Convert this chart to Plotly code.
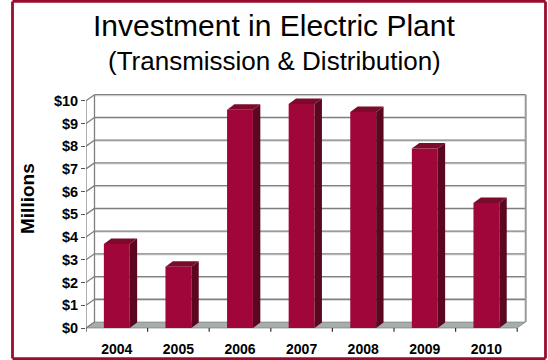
import plotly.graph_objects as go

# Annual investment in electric plant (transmission & distribution), $ millions
years = ["2004", "2005", "2006", "2007", "2008", "2009", "2010"]
investment = [3.7, 2.7, 9.6, 9.85, 9.5, 7.9, 5.5]
y_ticks = list(range(0, 11))
y_tick_labels = [f"${v}" for v in y_ticks]

W, H = 548, 360
FONT = "Liberation Sans, Arial, sans-serif"

# pixel geometry of the plot frame
X0_PX, CAT_PX = 86.0, 61.6        # left axis position, width of one category
Y0_PX, UNIT_PX = 328.0, 22.73     # $0 baseline, pixels per $1
X_RANGE = [0, 7.3]
Y_RANGE = [-0.45, 10.6]

x_dom = [X0_PX / W, (X0_PX + CAT_PX * X_RANGE[1]) / W]
y_dom = [(H - (Y0_PX - UNIT_PX * Y_RANGE[0])) / H,
         (H - (Y0_PX - UNIT_PX * Y_RANGE[1])) / H]

# 3-D depth of the walls / floor and of each column, in data units
DX, DY = 8.5 / CAT_PX, 6.0 / UNIT_PX
BDX, BDY = 7.4 / CAT_PX, 5.5 / UNIT_PX
BAR_W = 0.42
n = len(years)

FRONT = "#a0063a"
TOP = "#7c0a2b"
SIDE = "#5c0720"
GRID = "#7f7f7f"
BORDER = "#9a0c2e"

shapes = []


def seg(x0, y0, x1, y1, color=GRID, width=1.3, layer="below"):
    shapes.append(dict(type="line", xref="x", yref="y", x0=x0, y0=y0, x1=x1, y1=y1,
                       line=dict(color=color, width=width), layer=layer))


def poly(pts, fill, line_color=None, layer="above"):
    path = "M " + " L ".join(f"{px},{py}" for px, py in pts) + " Z"
    shapes.append(dict(type="path", xref="x", yref="y", path=path, fillcolor=fill,
                       line=dict(color=line_color or fill, width=0.6 if line_color else 0),
                       layer=layer))


# floor
poly([(0, 0), (n, 0), (n + DX, DY), (DX, DY)], "#a5aeab", "#6f7673", layer="below")

# back-wall gridlines with a light engraved shadow, and side-wall diagonals
for v in y_ticks:
    if v > 0:
        seg(DX, v + DY - 0.05, n + DX, v + DY - 0.05, color="#d9d9d9", width=1)
        seg(DX, v + DY, n + DX, v + DY)
    seg(0, v, DX, v + DY)

# wall edges and front value axis
seg(DX, DY, DX, y_ticks[-1] + DY)
seg(n + DX, DY, n + DX, y_ticks[-1] + DY, color="#9a9a9a", width=2)
seg(0, 0, 0, y_ticks[-1], color="#7a7a7a", width=1.2)

# category tick marks under the floor edge
for k in range(n + 1):
    seg(k, 0, k, -0.17, color="#333333", width=1.2, layer="above")

# column tops and right-hand sides
for i, v in enumerate(investment):
    xl = i + 0.5 - BAR_W / 2
    xr = i + 0.5 + BAR_W / 2
    poly([(xl, v), (xr, v), (xr + BDX, v + BDY), (xl + BDX, v + BDY)], TOP)
    poly([(xr, 0), (xr + BDX, BDY), (xr + BDX, v + BDY), (xr, v)], SIDE)

# outer frame, as four paper-referenced edges
fl, fr, ft, fb = 12.5 / W, 545.5 / W, 1 - 1.4 / H, 1 - 358.6 / H
for x0, y0, x1, y1 in [(fl, fb, fr, fb), (fl, ft, fr, ft), (fl, fb, fl, ft), (fr, fb, fr, ft)]:
    shapes.append(dict(type="line", xref="paper", yref="paper",
                       x0=x0, y0=y0, x1=x1, y1=y1,
                       line=dict(color=BORDER, width=2.8)))

fig = go.Figure(go.Bar(
    x=[i + 0.5 for i in range(n)],
    y=investment,
    width=BAR_W,
    marker=dict(color=FRONT, line=dict(width=0)),
    hoverinfo="skip",
))

fig.update_layout(
    width=W, height=H,
    margin=dict(l=0, r=0, t=0, b=0),
    paper_bgcolor="white", plot_bgcolor="white",
    showlegend=False,
    shapes=shapes,
    font=dict(family=FONT, color="black"),
    xaxis=dict(domain=x_dom, range=X_RANGE, showgrid=False, zeroline=False,
               showline=False, ticks="",
               tickvals=[i + 0.5 for i in range(n)], ticktext=years,
               tickfont=dict(family=FONT, size=14, weight="bold"),
               ticklabelstandoff=1, fixedrange=True),
    yaxis=dict(domain=y_dom, range=Y_RANGE, showgrid=False, zeroline=False,
               showline=False, ticks="outside", ticklen=4, tickcolor="#555555",
               tickvals=y_ticks, ticktext=y_tick_labels,
               tickfont=dict(family=FONT, size=14.5, weight="bold"),
               fixedrange=True),
    annotations=[
        dict(text="Investment in Electric Plant", xref="paper", yref="paper",
             x=274 / W, y=1 - 26 / H, xanchor="center", yanchor="middle",
             showarrow=False, font=dict(family=FONT, size=30, color="black")),
        dict(text="(Transmission & Distribution)", xref="paper", yref="paper",
             x=274 / W, y=1 - 61 / H, xanchor="center", yanchor="middle",
             showarrow=False, font=dict(family=FONT, size=26, color="black")),
        dict(text="Millions", xref="paper", yref="paper",
             x=27 / W, y=1 - 199 / H, xanchor="center", yanchor="middle",
             textangle=-90, showarrow=False,
             font=dict(family=FONT, size=19, weight="bold", color="black")),
    ],
)

fig.write_html("out.html")
